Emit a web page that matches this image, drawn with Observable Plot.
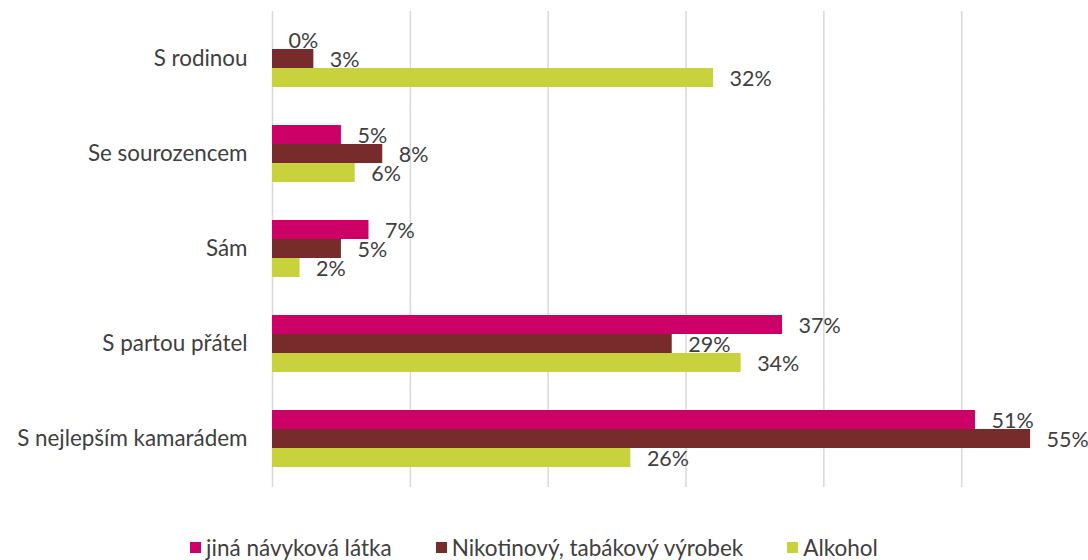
<!DOCTYPE html>
<html>
<head>
<meta charset="utf-8">
<script src="https://cdn.jsdelivr.net/npm/d3@7"></script>
<script src="https://cdn.jsdelivr.net/npm/@observablehq/plot@0.6"></script>
<style>
  body { margin: 0; background: #fff; font-family: Lato, "Open Sans", sans-serif; }
  #chart { width: 1088px; }
  .legend { display: flex; justify-content: center; gap: 44px; font-size: 22.5px; color: #404040; margin-top: 14px; padding-right: 20px; }
  .legend span.item { display: flex; align-items: center; }
  .legend span.sw { display: inline-block; width: 11px; height: 11px; margin-right: 5px; }
</style>
</head>
<body>
<div id="chart"></div>
<script>
const categories = ["S rodinou", "Se sourozencem", "Sám", "S partou přátel", "S nejlepším kamarádem"];
const series = ["jiná návyková látka", "Nikotinový, tabákový výrobek", "Alkohol"];
const colors = ["#CC0066", "#772B2B", "#C8D23C"];
const jinaLatka = [0, 5, 7, 37, 51];
const nikotin = [3, 8, 5, 29, 55];
const alkohol = [32, 6, 2, 34, 26];
const gridTicks = [0, 10, 20, 30, 40, 50];

const valuesBySeries = [jinaLatka, nikotin, alkohol];
const data = [];
categories.forEach((c, i) => {
  series.forEach((s, j) => data.push({category: c, series: s, value: valuesBySeries[j][i]}));
});

const chart = Plot.plot({
  width: 1088,
  height: 520,
  marginLeft: 272,
  marginRight: 0,
  marginTop: 11,
  marginBottom: 34,
  style: {fontFamily: "Lato, 'Open Sans', sans-serif", fontSize: "22.4px", color: "#404040", background: "#fff"},
  x: {domain: [0, 59.2], axis: null},
  y: {domain: series, axis: null, padding: 0},
  fy: {domain: categories, paddingInner: 0.4, paddingOuter: 0.2, label: null, tickSize: 0, tickPadding: 25},
  color: {domain: series, range: colors},
  marks: [
    Plot.ruleX(gridTicks, {stroke: "#D9D9D9", strokeWidth: 1.5, insetTop: -19, insetBottom: -20}),
    Plot.barX(data, {x: "value", y: "series", fy: "category", fill: "series", inset: 0}),
    Plot.text(data, {x: "value", y: "series", fy: "category", text: d => d.value + "%", textAnchor: "start", dx: 16, dy: 1, fill: "#404040", fontSize: 21.5})
  ]
});
document.getElementById("chart").appendChild(chart);

const legend = document.createElement("div");
legend.className = "legend";
series.forEach((s, i) => {
  const item = document.createElement("span");
  item.className = "item";
  const sw = document.createElement("span");
  sw.className = "sw";
  sw.style.background = colors[i];
  item.appendChild(sw);
  item.appendChild(document.createTextNode(s));
  legend.appendChild(item);
});
document.getElementById("chart").appendChild(legend);
</script>
</body>
</html>
